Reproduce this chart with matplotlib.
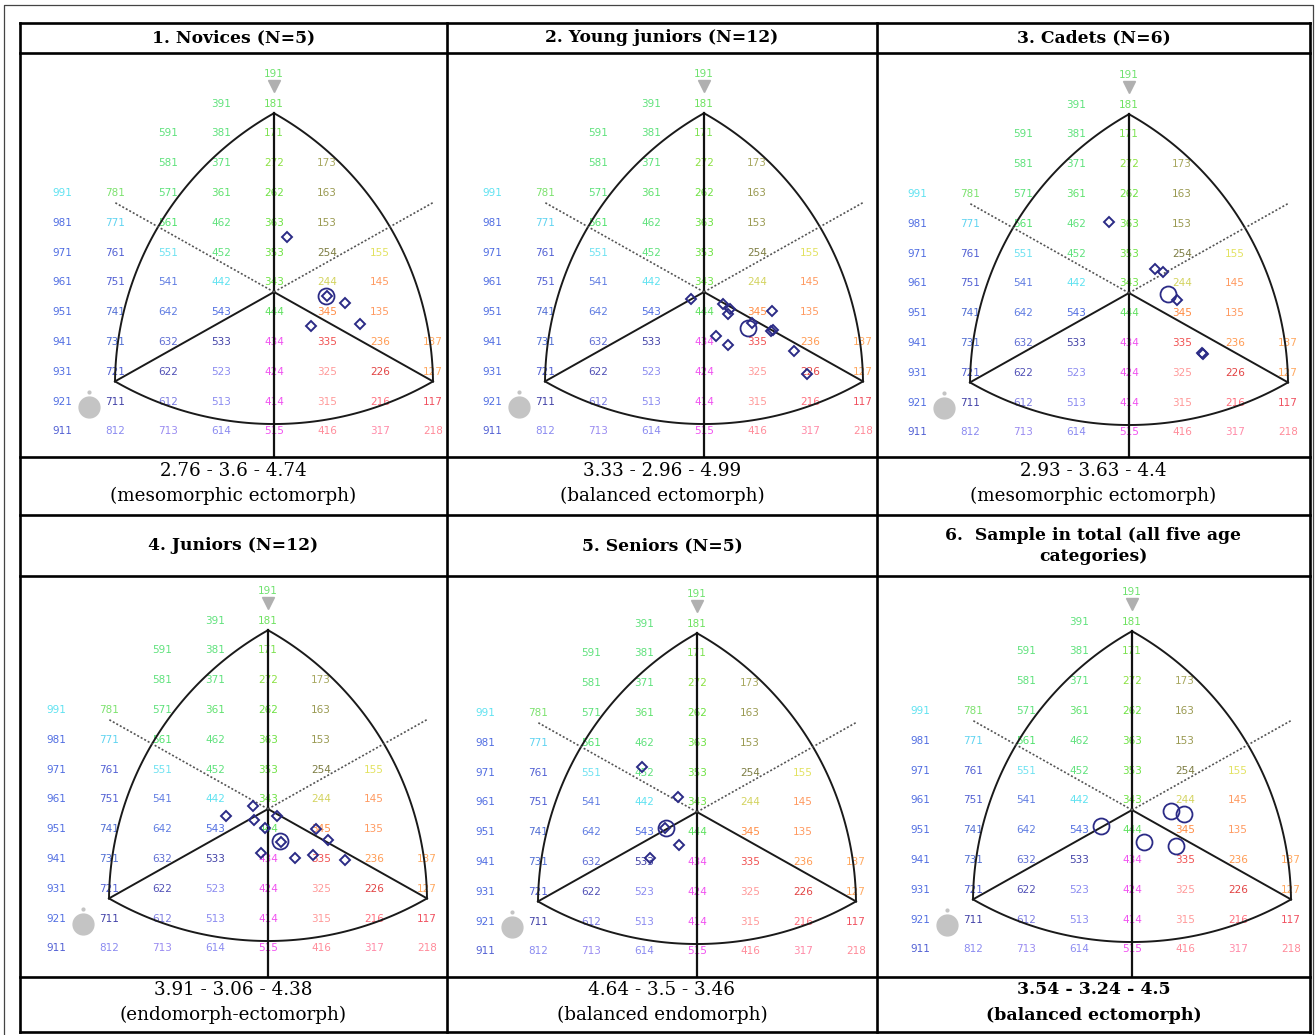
import numpy as np
import matplotlib
matplotlib.use("Agg")
import matplotlib.pyplot as plt

# ---------------- data ----------------
titles = ["1. Novices (N=5)", "2. Young juniors (N=12)", "3. Cadets (N=6)",
          "4. Juniors (N=12)", "5. Seniors (N=5)",
          "6.  Sample in total (all five age\ncategories)"]
mean_somatotypes = ["2.76 - 3.6 - 4.74", "3.33 - 2.96 - 4.99", "2.93 - 3.63 - 4.4",
                    "3.91 - 3.06 - 4.38", "4.64 - 3.5 - 3.46", "3.54 - 3.24 - 4.5"]
endo_means = [2.76, 3.33, 2.93, 3.91, 4.64]
meso_means = [3.6, 2.96, 3.63, 3.06, 3.5]
ecto_means = [4.74, 4.99, 4.4, 4.38, 3.46]
classifications = ["(mesomorphic ectomorph)", "(balanced ectomorph)", "(mesomorphic ectomorph)",
                   "(endomorph-ectomorph)", "(balanced endomorph)", "(balanced ectomorph)"]

# individual athletes, somatochart coordinates (X, Y)
novices_x = [0.48, 1.99, 2.68, 1.40, 3.25]
novices_y = [3.67, -0.30, -0.76, -2.28, -2.15]
young_juniors_x = [-0.50, 0.71, 0.98, 0.89, 2.55, 1.80, 0.45, 0.92, 2.53, 2.60, 3.40, 3.90]
young_juniors_y = [-0.47, -0.83, -1.16, -1.48, -1.28, -2.06, -2.95, -3.56, -2.62, -2.55, -3.94, -5.50]
cadets_x = [-0.75, 0.98, 1.29, 1.80, 2.74, 2.80]
cadets_y = [4.78, 1.59, 1.43, -0.47, -4.00, -4.10]
juniors_x = [-0.58, -1.58, -0.53, 0.35, -0.11, 0.49, 1.02, 1.71, 1.81, 2.26, 2.91, -0.26]
juniors_y = [0.20, -0.47, -0.74, -0.47, -1.30, -2.21, -3.31, -3.09, -1.34, -2.08, -3.42, -2.95]
seniors_x = [-2.09, -0.71, -0.68, -1.20, -1.77]
seniors_y = [3.00, 0.99, -2.21, -1.10, -3.09]

# somatotype grid labels printed on the chart
label_codes = ["191",
               "391", "181",
               "591", "381", "171",
               "581", "371", "272", "173",
               "991", "781", "571", "361", "262", "163",
               "981", "771", "561", "462", "363", "153",
               "971", "761", "551", "452", "353", "254", "155",
               "961", "751", "541", "442", "343", "244", "145",
               "951", "741", "642", "543", "444", "345", "135",
               "941", "731", "632", "533", "434", "335", "236", "137",
               "931", "721", "622", "523", "424", "325", "226", "127",
               "921", "711", "612", "513", "414", "315", "216", "117",
               "911", "812", "713", "614", "515", "416", "317", "218"]
label_colors = {
    "191": "#55dd55", "391": "#44dd66", "181": "#55dd44", "591": "#44dd66", "381": "#44dd66",
    "171": "#66dd33", "581": "#44dd66", "371": "#44dd66", "272": "#77dd22", "173": "#999944",
    "991": "#44ddee", "781": "#66dd55", "571": "#44dd66", "361": "#44dd55", "262": "#55dd22",
    "163": "#888833", "981": "#3355dd", "771": "#44ccee", "561": "#33dd55", "462": "#44dd66",
    "363": "#55dd22", "153": "#888833", "971": "#3355dd", "761": "#3344cc", "551": "#55ddee",
    "452": "#44dd66", "353": "#55dd22", "254": "#666622", "155": "#dddd44", "961": "#3355dd",
    "751": "#3344cc", "541": "#4466dd", "442": "#44ddee", "343": "#55dd22", "244": "#cccc44",
    "145": "#ff8844", "951": "#3355dd", "741": "#3355cc", "642": "#4466dd", "543": "#3355dd",
    "444": "#44dd44", "345": "#ff7722", "135": "#ff8844", "941": "#3355dd", "731": "#3355cc",
    "632": "#4455cc", "533": "#222299", "434": "#ee33ee", "335": "#ee3333", "236": "#ff8833",
    "137": "#ff9944", "931": "#3355dd", "721": "#3344cc", "622": "#3333aa", "523": "#7777ee",
    "424": "#ee33ee", "325": "#ff8888", "226": "#dd2222", "127": "#ff9944", "921": "#3355dd",
    "711": "#222299", "612": "#6666dd", "513": "#7777ee", "414": "#ee33ee", "315": "#ff8888",
    "216": "#ff5566", "117": "#ee3344", "911": "#3344cc", "812": "#7777ee", "713": "#8877ee",
    "614": "#7777ee", "515": "#ee33ee", "416": "#ff7788", "317": "#ff7799", "218": "#ff7788"}

# --------------- layout (pixels) ---------------
W, H = 1315, 1035
col_edges = [20, 447, 877, 1310]
row_lines = [23, 53, 457, 515, 576, 977, 1032]
img_rows = [(53, 457), (576, 977)]
centers = [(274, 292), (704, 292), (1129, 293), (268, 809), (697, 812), (1132, 810)]
SX, SY = 26.5, 14.9

NAVY = "#2b2b86"
SERIF = "DejaVu Serif"


def soma_xy(endo, meso, ecto):
    return ecto - endo, 2 * meso - (endo + ecto)


def arc_pts(P, Q, opp, sx, sy, n=80):
    # circular arc (in pixel space) through P and Q, radius = chord, centre toward opp
    p = np.array([P[0] * sx, P[1] * sy]); q = np.array([Q[0] * sx, Q[1] * sy])
    o = np.array([opp[0] * sx, opp[1] * sy])
    R = np.linalg.norm(q - p)
    mid = (p + q) / 2
    perp = np.array([-(q - p)[1], (q - p)[0]]) / R
    if np.dot(o - mid, perp) < 0:
        perp = -perp
    c = mid + perp * np.sqrt(R ** 2 - (R / 2) ** 2)
    a1 = np.arctan2(*(p - c)[::-1]); a2 = np.arctan2(*(q - c)[::-1])
    d = (a2 - a1 + np.pi) % (2 * np.pi) - np.pi
    t = np.linspace(a1, a1 + d, n)
    return (c[0] + R * np.cos(t)) / sx, (c[1] + R * np.sin(t)) / sy


fig = plt.figure(figsize=(W / 100, H / 100), dpi=100)

panel_points = [(novices_x, novices_y), (young_juniors_x, young_juniors_y), (cadets_x, cadets_y),
                (juniors_x, juniors_y), (seniors_x, seniors_y), None]

for i in range(6):
    r, c = divmod(i, 3)
    x0, x1 = col_edges[c], col_edges[c + 1]
    y0, y1 = img_rows[r]
    cx, cy = centers[i]
    sx, sy = SX, SY
    ax = fig.add_axes([x0 / W, 1 - y1 / H, (x1 - x0) / W, (y1 - y0) / H])
    ax.set_xlim((x0 - cx) / sx, (x1 - cx) / sx)
    ax.set_ylim((cy - y1) / sy, (cy - y0) / sy)
    ax.axis("off")

    # grid labels
    for code in label_codes:
        e, m, k = (int(ch) for ch in code)
        X, Y = soma_xy(e, m, k)
        ax.text(X, Y - 1.35, code, ha="center", va="center", fontsize=7.5,
                color=label_colors[code], alpha=0.85, family="DejaVu Sans", zorder=1)

    A = soma_xy(1, 7, 1); B = soma_xy(7, 1, 1); C = soma_xy(1, 1, 7)
    for P, Q, O in [(A, B, C), (A, C, B), (B, C, A)]:
        xs, ys = arc_pts(P, Q, O, sx, sy)
        ax.plot(xs, ys, color="#1a1a1a", lw=1.4, zorder=3)
    ybot = (cy - y1) / sy
    ax.plot([A[0], A[0]], [A[1], ybot], color="#111111", lw=1.6, zorder=3)
    ax.plot([B[0], 0, C[0]], [B[1], 0, C[1]], color="#1a1a1a", lw=1.4, zorder=3)
    ax.plot([0, -C[0]], [0, -C[1]], color="#555555", lw=1.2, ls=(0, (1.2, 1.2)), zorder=3)
    ax.plot([0, -B[0]], [0, -B[1]], color="#555555", lw=1.2, ls=(0, (1.2, 1.2)), zorder=3)

    # grey decorations of the software
    ax.plot([0], [13.8], marker="v", ms=9, color="#b0b0b0", mec="#b0b0b0", zorder=2)
    ax.plot([-7.0], [-7.7], marker="o", ms=15, color="#c4c4c4", mec="#c4c4c4", zorder=2)
    ax.plot([-7.0], [-6.7], marker="o", ms=2, color="#c4c4c4", mec="#c4c4c4", zorder=2)

    if panel_points[i] is not None:
        px, py = panel_points[i]
        ax.plot(px, py, ls="none", marker="D", ms=4.6, mfc="none", mec=NAVY, mew=1.4, zorder=4)
        mx, my = soma_xy(endo_means[i], meso_means[i], ecto_means[i])
        ax.plot([mx], [my], ls="none", marker="o", ms=11.5, mfc="none", mec=NAVY, mew=1.3, zorder=4)
    else:
        for e, m, k in zip(endo_means, meso_means, ecto_means):
            mx, my = soma_xy(e, m, k)
            ax.plot([mx], [my], ls="none", marker="o", ms=11.5, mfc="none", mec=NAVY, mew=1.3, zorder=4)

# --------------- table overlay ---------------
ov = fig.add_axes([0, 0, 1, 1], facecolor="none")
ov.set_xlim(0, W); ov.set_ylim(H, 0); ov.axis("off")
ov.plot([4, 4, 1313, 1313], [H, 5, 5, H], color="#444444", lw=0.9)
for y in row_lines:
    ov.plot([col_edges[0], col_edges[-1]], [y, y], color="black", lw=1.9, solid_capstyle="projecting")
for x in col_edges:
    ov.plot([x, x], [row_lines[0], row_lines[-1]], color="black", lw=1.9, solid_capstyle="projecting")

col_centers = [(col_edges[j] + col_edges[j + 1]) / 2 for j in range(3)]
header_y = [38, 546]
cap_y = [(471, 496), (990, 1015)]
for i in range(6):
    r, c = divmod(i, 3)
    xc = col_centers[c]
    ov.text(xc, header_y[r], titles[i], ha="center", va="center", fontsize=12.3,
            fontweight="bold", family=SERIF, linespacing=1.3)
    if i == 5:
        fw, fs = "bold", 12.5
    else:
        fw, fs = "normal", 13.2
    ov.text(xc, cap_y[r][0], mean_somatotypes[i], ha="center", va="center", fontsize=fs,
            fontweight=fw, family=SERIF)
    ov.text(xc, cap_y[r][1], classifications[i], ha="center", va="center", fontsize=fs,
            fontweight=fw, family=SERIF)

fig.savefig("out.png", dpi=100)
